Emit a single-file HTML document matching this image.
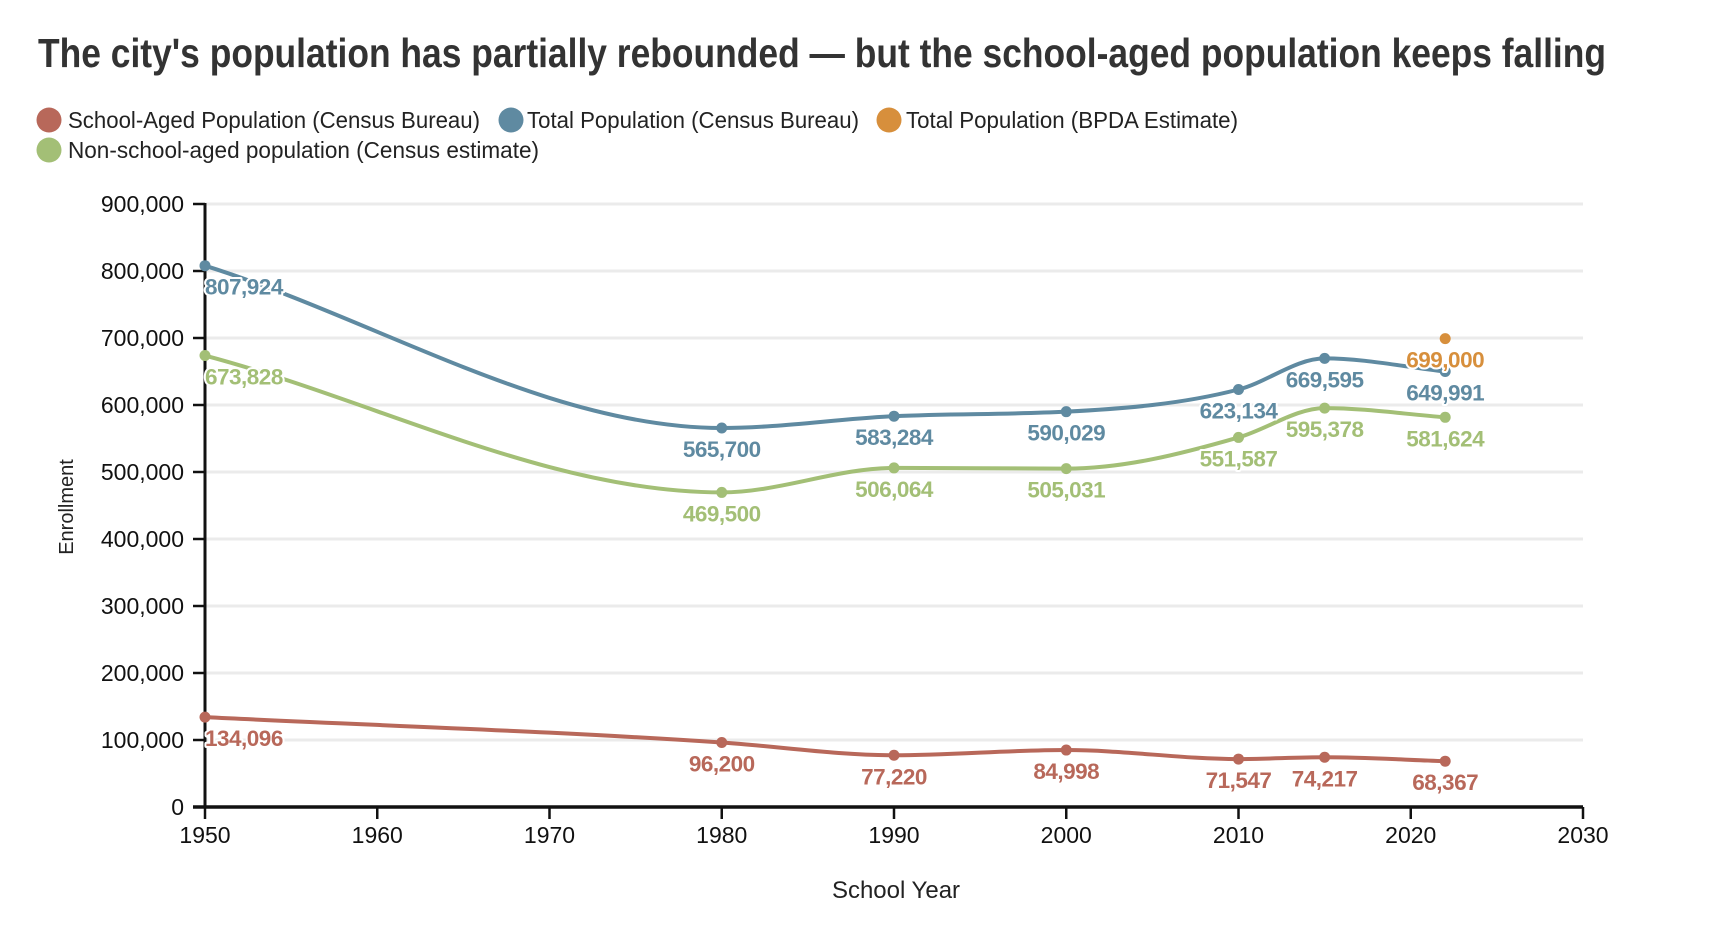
<!DOCTYPE html>
<html><head><meta charset="utf-8"><style>
html,body{margin:0;padding:0;background:#fff;}
svg{display:block;font-family:"Liberation Sans Narrow","Liberation Sans",sans-serif;}
.lbl{font-family:"Liberation Sans",sans-serif;font-weight:bold;font-size:22.5px;paint-order:stroke;stroke:#fff;stroke-width:4px;stroke-linejoin:round;letter-spacing:-0.5px;}
</style></head><body>
<svg id="chart" width="1712" height="936" viewBox="0 0 1712 936" xmlns="http://www.w3.org/2000/svg">
<text x="38" y="67" font-size="41" font-weight="bold" fill="#333" textLength="1568" lengthAdjust="spacingAndGlyphs">The city's population has partially rebounded — but the school-aged population keeps falling</text>
<g>
 <g><circle cx="49" cy="120" r="12.5" fill="#b8685a"/><text x="68" y="128" font-size="23" fill="#222" textLength="412" lengthAdjust="spacingAndGlyphs">School-Aged Population (Census Bureau)</text></g>
 <g><circle cx="511" cy="120" r="12.5" fill="#5f8aa1"/><text x="527" y="128" font-size="23" fill="#222" textLength="332" lengthAdjust="spacingAndGlyphs">Total Population (Census Bureau)</text></g>
 <g><circle cx="889" cy="120" r="12.5" fill="#d78f3c"/><text x="906" y="128" font-size="23" fill="#222" textLength="332" lengthAdjust="spacingAndGlyphs">Total Population (BPDA Estimate)</text></g>
 <g><circle cx="49" cy="150" r="12.5" fill="#a3bf76"/><text x="68" y="158" font-size="23" fill="#222" textLength="471" lengthAdjust="spacingAndGlyphs">Non-school-aged population (Census estimate)</text></g>
</g>
<g id="grid"></g><g id="axes"></g><g id="lines"></g><g id="pts"></g><g id="labels"></g>
<text x="896" y="898" font-size="24" text-anchor="middle" fill="#222">School Year</text>
<text transform="translate(73,507) rotate(-90)" font-size="20" text-anchor="middle" fill="#222">Enrollment</text>
</svg>
<script>
const years = [1950,1980,1990,2000,2010,2015,2022];
const schoolAged = [134096,96200,77220,84998,71547,74217,68367];
const totalCensus = [807924,565700,583284,590029,623134,669595,649991];
const nonSchool = [673828,469500,506064,505031,551587,595378,581624];
const bpdaYears = [2022];
const bpdaValues = [699000];
const yTicks = [0,100000,200000,300000,400000,500000,600000,700000,800000,900000];
const xTicks = [1950,1960,1970,1980,1990,2000,2010,2020,2030];

const NS="http://www.w3.org/2000/svg";
const X0=205,X1=1591-8,Y0=807,Y1=204;
const xs=v=>X0+(v-1950)/(2030-1950)*(X1-X0);
const ys=v=>Y0-v/900000*(Y0-Y1);
const fmt=v=>v.toLocaleString('en-US');
function mk(tag,attrs,parent){const e=document.createElementNS(NS,tag);for(const k in attrs)e.setAttribute(k,attrs[k]);parent.appendChild(e);return e;}
const grid=document.getElementById('grid'),axes=document.getElementById('axes'),lines=document.getElementById('lines'),pts=document.getElementById('pts'),labels=document.getElementById('labels');
yTicks.forEach(t=>{
 const y=ys(t);
 if(t>0){const g=mk('line',{x1:X0,x2:X1,y1:y,y2:y,stroke:'#ebebeb','stroke-width':3},grid);
 
 }
 const tk=mk('line',{x1:X0-12,x2:X0,y1:y,y2:y,stroke:'#111','stroke-width':2.5},axes);
 
 
 const tx=mk('text',{x:184,y:y+8,'font-size':23,'text-anchor':'end',fill:'#111'},axes);
 tx.textContent=fmt(t);
 
 
});
xTicks.forEach(t=>{
 const x=xs(t);
 const tk=mk('line',{x1:x,x2:x,y1:Y0,y2:Y0+12,stroke:'#111','stroke-width':2.5},axes);
 
 
 const tx=mk('text',{x:x,y:843,'font-size':23,'text-anchor':'middle',fill:'#111'},axes);
 tx.textContent=t;
 
 
});
const ya=mk('line',{x1:X0,x2:X0,y1:Y1-1,y2:Y0,stroke:'#111','stroke-width':3},axes);


const xa=mk('line',{x1:X0-12,x2:X1,y1:Y0,y2:Y0,stroke:'#111','stroke-width':3.5},axes);



function monotone(P){
 const n=P.length;if(n<2)return '';
 const dx=[],m=[],t=[];
 for(let i=0;i<n-1;i++){dx.push(P[i+1][0]-P[i][0]);m.push((P[i+1][1]-P[i][1])/dx[i]);}
 t[0]=m[0];t[n-1]=m[n-2];
 for(let i=1;i<n-1;i++){
  if(m[i-1]*m[i]<=0)t[i]=0;
  else{const h0=dx[i-1],h1=dx[i];const p=(m[i-1]*h1+m[i]*h0)/(h0+h1);
   t[i]=(Math.sign(m[i-1])+Math.sign(m[i]))*Math.min(Math.abs(m[i-1]),Math.abs(m[i]),0.5*Math.abs(p));}
 }
 let d='M'+P[0][0]+','+P[0][1];
 for(let i=0;i<n-1;i++){const h=dx[i]/3;
  d+='C'+(P[i][0]+h)+','+(P[i][1]+t[i]*h)+' '+(P[i+1][0]-h)+','+(P[i+1][1]-t[i+1]*h)+' '+P[i+1][0]+','+P[i+1][1];}
 return d;
}
const series=[
 {name:'total-census',vals:totalCensus,yrs:years,color:'#5f8aa1'},
 {name:'non-school-aged',vals:nonSchool,yrs:years,color:'#a3bf76'},
 {name:'school-aged',vals:schoolAged,yrs:years,color:'#b8685a'},
 {name:'total-bpda',vals:bpdaValues,yrs:bpdaYears,color:'#d78f3c'}
];
series.forEach(s=>{
 const P=s.yrs.map((y,i)=>[xs(y),ys(s.vals[i])]);
 if(P.length>1){
  const p=mk('path',{d:monotone(P),fill:'none',stroke:s.color,'stroke-width':4},lines);
  
  
 }
 P.forEach((pt,i)=>{
  const c=mk('circle',{cx:pt[0],cy:pt[1],r:5.5,fill:s.color},pts);
  
  
  const first=s.yrs[i]===1950;
  const t=mk('text',{x:pt[0],y:pt[1]+29,'text-anchor':first?'start':'middle',fill:s.color,'class':'lbl'},labels);
  t.textContent=fmt(s.vals[i]);
  
  
 });
});
</script>
</body></html>
